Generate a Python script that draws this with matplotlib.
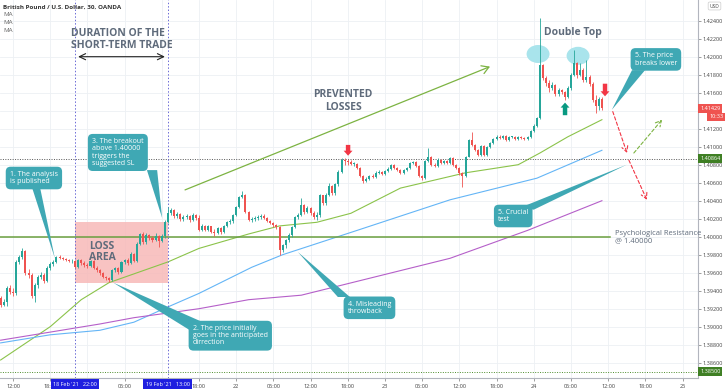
import numpy as np
import matplotlib.pyplot as plt
from matplotlib.patches import Rectangle, Ellipse, Polygon
from matplotlib.transforms import blended_transform_factory

plt.rcParams['font.family'] = ['Open Sans', 'DejaVu Sans']

# GBP/USD 30-minute candles, bar 0 = 18 Feb 12:00
first_open = 1.3932
closes = np.array([
    1.3924, 1.3927, 1.3943, 1.3939, 1.3937, 1.3972, 1.3977, 1.3984, 1.3960, 1.3957,
    1.3934, 1.3946, 1.3955, 1.3957, 1.3951, 1.3965, 1.3970, 1.3972, 1.3977, 1.3976,
    1.3975, 1.3974, 1.3973, 1.3973, 1.3966, 1.3974, 1.3971, 1.3969, 1.3967, 1.3973,
    1.3965, 1.3963, 1.3960, 1.3955, 1.3954, 1.3952, 1.3963, 1.3965, 1.3961, 1.3972,
    1.3974, 1.3971, 1.3981, 1.3973, 1.3992, 1.4003, 1.3994, 1.4002, 1.3999, 1.3996,
    1.4001, 1.3995, 1.4001, 1.4016, 1.4026, 1.4030, 1.4023, 1.4025, 1.4020, 1.4022,
    1.4023, 1.4019, 1.4024, 1.4021, 1.4007, 1.4012, 1.4007, 1.4012, 1.4005, 1.4004,
    1.4010, 1.4005, 1.4012, 1.4016, 1.4017, 1.4024, 1.4033, 1.4044, 1.4046, 1.4027,
    1.4019, 1.4020, 1.4021, 1.4022, 1.4023, 1.4021, 1.4017, 1.4015, 1.4013, 1.4011,
    1.3985, 1.3991, 1.3996, 1.4002, 1.4011, 1.4022, 1.4024, 1.4035, 1.4027, 1.4032,
    1.4026, 1.4022, 1.4024, 1.4046, 1.4037, 1.4046, 1.4056, 1.4049, 1.4059, 1.4072,
    1.4085, 1.4084, 1.4083, 1.4081, 1.4081, 1.4076, 1.4067, 1.4062, 1.4064, 1.4067,
    1.4066, 1.4071, 1.4072, 1.4070, 1.4073, 1.4075, 1.4080, 1.4076, 1.4074, 1.4071,
    1.4074, 1.4076, 1.4082, 1.4083, 1.4079, 1.4067, 1.4065, 1.4084, 1.4089, 1.4080,
    1.4079, 1.4085, 1.4082, 1.4084, 1.4082, 1.4087, 1.4080, 1.4076, 1.4071, 1.4067,
    1.4089, 1.4107, 1.4102, 1.4096, 1.4091, 1.4101, 1.4091, 1.4100, 1.4104, 1.4109,
    1.4111, 1.4110, 1.4112, 1.4107, 1.4111, 1.4111, 1.4109, 1.4111, 1.4110, 1.4109,
    1.4111, 1.4117, 1.4123, 1.4132, 1.4191, 1.4176, 1.4171, 1.4165, 1.4169, 1.4159,
    1.4163, 1.4161, 1.4155, 1.4165, 1.4180, 1.4193, 1.4180, 1.4185, 1.4174, 1.4177,
    1.4170, 1.4152, 1.4145, 1.4153, 1.4143])
highs = np.array([
    1.3934, 1.3931, 1.3945, 1.3946, 1.3943, 1.3974, 1.3980, 1.3987, 1.3985, 1.3964,
    1.3960, 1.3949, 1.3957, 1.3961, 1.3960, 1.3967, 1.3972, 1.3974, 1.3979, 1.3980,
    1.3977, 1.3976, 1.3975, 1.3975, 1.3974, 1.3975, 1.3975, 1.3973, 1.3971, 1.3974,
    1.3974, 1.3967, 1.3964, 1.3961, 1.3956, 1.3955, 1.3964, 1.3966, 1.3966, 1.3973,
    1.3975, 1.3976, 1.3983, 1.3982, 1.3994, 1.4004, 1.4005, 1.4004, 1.4003, 1.4001,
    1.4004, 1.4002, 1.4003, 1.4019, 1.4033, 1.4032, 1.4031, 1.4027, 1.4026, 1.4024,
    1.4025, 1.4024, 1.4026, 1.4025, 1.4024, 1.4014, 1.4013, 1.4013, 1.4012, 1.4009,
    1.4011, 1.4011, 1.4013, 1.4017, 1.4020, 1.4025, 1.4034, 1.4045, 1.4051, 1.4047,
    1.4029, 1.4022, 1.4023, 1.4024, 1.4025, 1.4025, 1.4022, 1.4019, 1.4016, 1.4014,
    1.4012, 1.3992, 1.3997, 1.4004, 1.4012, 1.4023, 1.4026, 1.4043, 1.4036, 1.4034,
    1.4033, 1.4029, 1.4027, 1.4047, 1.4046, 1.4049, 1.4060, 1.4057, 1.4060, 1.4074,
    1.4087, 1.4087, 1.4086, 1.4085, 1.4083, 1.4082, 1.4077, 1.4069, 1.4066, 1.4069,
    1.4070, 1.4073, 1.4074, 1.4073, 1.4074, 1.4077, 1.4081, 1.4081, 1.4077, 1.4075,
    1.4075, 1.4077, 1.4083, 1.4084, 1.4084, 1.4080, 1.4069, 1.4085, 1.4099, 1.4090,
    1.4082, 1.4087, 1.4086, 1.4085, 1.4085, 1.4089, 1.4089, 1.4081, 1.4077, 1.4072,
    1.4090, 1.4109, 1.4116, 1.4103, 1.4097, 1.4102, 1.4102, 1.4101, 1.4105, 1.4110,
    1.4113, 1.4113, 1.4113, 1.4113, 1.4112, 1.4112, 1.4112, 1.4112, 1.4112, 1.4111,
    1.4112, 1.4119, 1.4125, 1.4133, 1.4243, 1.4192, 1.4179, 1.4174, 1.4172, 1.4170,
    1.4165, 1.4164, 1.4162, 1.4167, 1.4182, 1.4207, 1.4194, 1.4193, 1.4187, 1.4196,
    1.4180, 1.4172, 1.4157, 1.4155, 1.4155])
lows = np.array([
    1.3922, 1.3923, 1.3923, 1.3936, 1.3934, 1.3935, 1.3970, 1.3975, 1.3957, 1.3954,
    1.3932, 1.3927, 1.3943, 1.3953, 1.3949, 1.3950, 1.3963, 1.3967, 1.3971, 1.3975,
    1.3974, 1.3973, 1.3972, 1.3971, 1.3965, 1.3965, 1.3969, 1.3966, 1.3965, 1.3966,
    1.3964, 1.3961, 1.3957, 1.3954, 1.3952, 1.3950, 1.3951, 1.3961, 1.3959, 1.3960,
    1.3970, 1.3969, 1.3970, 1.3972, 1.3972, 1.3991, 1.3992, 1.3992, 1.3996, 1.3994,
    1.3995, 1.3989, 1.3994, 1.3999, 1.4015, 1.4024, 1.4021, 1.4021, 1.4017, 1.4017,
    1.4020, 1.4016, 1.4017, 1.4019, 1.4006, 1.4006, 1.4006, 1.4006, 1.4004, 1.4001,
    1.4003, 1.4003, 1.4004, 1.4011, 1.4014, 1.4015, 1.4023, 1.4032, 1.4043, 1.4026,
    1.4017, 1.4016, 1.4017, 1.4019, 1.4020, 1.4020, 1.4016, 1.4014, 1.4011, 1.4009,
    1.3980, 1.3983, 1.3987, 1.3994, 1.4000, 1.4010, 1.4020, 1.4023, 1.4025, 1.4026,
    1.4024, 1.4020, 1.4019, 1.4022, 1.4035, 1.4035, 1.4045, 1.4046, 1.4046, 1.4056,
    1.4071, 1.4080, 1.4080, 1.4080, 1.4079, 1.4075, 1.4066, 1.4060, 1.4061, 1.4063,
    1.4065, 1.4065, 1.4070, 1.4069, 1.4069, 1.4072, 1.4074, 1.4075, 1.4073, 1.4070,
    1.4070, 1.4073, 1.4075, 1.4081, 1.4077, 1.4066, 1.4063, 1.4064, 1.4083, 1.4079,
    1.4077, 1.4077, 1.4081, 1.4081, 1.4081, 1.4081, 1.4079, 1.4075, 1.4069, 1.4055,
    1.4066, 1.4089, 1.4101, 1.4095, 1.4090, 1.4090, 1.4090, 1.4090, 1.4099, 1.4103,
    1.4107, 1.4109, 1.4109, 1.4106, 1.4106, 1.4110, 1.4107, 1.4107, 1.4109, 1.4107,
    1.4107, 1.4110, 1.4116, 1.4122, 1.4131, 1.4174, 1.4167, 1.4161, 1.4163, 1.4156,
    1.4156, 1.4159, 1.4152, 1.4154, 1.4163, 1.4179, 1.4176, 1.4179, 1.4172, 1.4172,
    1.4167, 1.4150, 1.4137, 1.4141, 1.4141])
bars = np.arange(-4, -4 + len(closes))

# moving averages
ma_fast_bars = [-4, 12, 22, 31, 50, 60, 76, 86, 98, 109, 125, 146, 163, 170, 173, 179, 190]
ma_fast = [1.3863, 1.3900, 1.3930, 1.3949, 1.3972, 1.3987, 1.4003, 1.4012, 1.4016, 1.4026,
           1.4054, 1.4071, 1.4080, 1.4093, 1.4099, 1.4111, 1.4130]
ma_mid_bars = [-4, 12, 28, 39, 50, 60, 77, 87, 111, 141, 169, 190]
ma_mid = [1.3882, 1.3891, 1.3896, 1.3905, 1.3922, 1.3937, 1.3966, 1.3980, 1.4007, 1.4041, 1.4065, 1.4096]
ma_slow_bars = [-4, 28, 39, 60, 76, 93, 141, 166, 190]
ma_slow = [1.3885, 1.3903, 1.3910, 1.3920, 1.3930, 1.3935, 1.3976, 1.4007, 1.4040]

# time axis (labels under the two date tags are hidden on the chart)
tick_bars = [0, 12, 24, 36, 48, 60, 72, 84, 96, 108, 120, 132, 144, 156, 168, 180, 192, 204, 216]
tick_labels = ['12:00', '18:00', '', '06:00', '', '18:00', '22', '06:00', '12:00', '18:00',
               '23', '06:00', '12:00', '18:00', '24', '06:00', '12:00', '18:00', '25']

# price axis (the 1.41400 label sits under the last-price tag)
price_ticks = np.arange(1.386, 1.4245, 0.002)
price_labels = ['' if abs(v - 1.414) < 1e-6 else f'{v:.5f}' for v in price_ticks]

last_price = 1.41429
level_high = 1.40864
level_low = 1.38500
psych_level = 1.40000

TEAL = '#3fa8b4'
UP, DOWN = '#26a69a', '#ef5350'
TXT = '#5f6b7b'

fig = plt.figure(figsize=(7.28, 3.91), dpi=100)
ax = fig.add_axes([0, 13 / 391, 698 / 728, 378 / 391])
ax.set_xlim(-4.2, 221.0)
ax.set_ylim(1.3843, 1.4263)

# candles
opens = np.r_[first_open, closes[:-1]]
hi = np.maximum(highs, np.maximum(opens, closes))
lo = np.minimum(lows, np.minimum(opens, closes))
cols = np.where(closes >= opens, UP, DOWN)
ax.vlines(bars, lo, hi, colors=cols, lw=0.6, zorder=4)
ax.bar(bars, np.maximum(np.abs(closes - opens), 0.00004), bottom=np.minimum(opens, closes),
       width=0.65, color=cols, lw=0, zorder=4)

ax.plot(ma_fast_bars, ma_fast, color='#8bc34a', lw=0.8, zorder=3)
ax.plot(ma_mid_bars, ma_mid, color='#64b5f6', lw=0.8, zorder=3)
ax.plot(ma_slow_bars, ma_slow, color='#b55fc9', lw=0.8, zorder=3)

# levels
ax.plot([-4.2, 192.6], [psych_level, psych_level], color='#6a9f3f', lw=1.1, zorder=3)
ax.axhline(level_high, color='#555555', lw=0.7, ls=(0, (1, 1.5)), zorder=3)
ax.axhline(level_low, color='#4c8c2b', lw=0.7, ls=(0, (1, 1.5)), zorder=3)
for b in (20, 50):
    ax.axvline(b, color='#6b6bd6', lw=0.7, ls=(0, (1.5, 2)), zorder=3)

ax.add_patch(Rectangle((20, 1.39486), 30, 0.00677, fc='#f7b9b8', ec='none', alpha=0.85, zorder=1))
ax.text(24.5, 1.3983, 'LOSS\nAREA', fontsize=7.5, fontweight='bold', color=TXT,
        ha='left', va='center', linespacing=1.1, zorder=5)

ax.add_patch(Ellipse((169.4, 1.4203), 7.4, 0.0020, fc='#a9e4ec', ec='none', zorder=2))
ax.add_patch(Ellipse((182.3, 1.4201), 7.4, 0.0020, fc='#a9e4ec', ec='none', zorder=2))

ax.text(18.7, 1.4232, 'DURATION OF THE\nSHORT-TERM TRADE', fontsize=7.5, fontweight='bold',
        color=TXT, ha='left', va='top', linespacing=1.1, zorder=5)
ax.annotate('', xy=(49, 1.4200), xytext=(21, 1.4200),
            arrowprops=dict(arrowstyle='<->,head_length=0.45,head_width=0.22', color='#222222',
                            lw=0.8, shrinkA=0, shrinkB=0))
ax.text(106.5, 1.4151, 'PREVENTED\nLOSSES', fontsize=7.5, fontweight='bold', color=TXT,
        ha='center', va='center', linespacing=1.2, zorder=5)
ax.annotate('', xy=(153.9, 1.4189), xytext=(55.5, 1.4052),
            arrowprops=dict(arrowstyle='->,head_length=0.5,head_width=0.3', color='#7cb342',
                            lw=0.9, shrinkA=0, shrinkB=0))
ax.text(171.3, 1.4227, 'Double Top', fontsize=7.5, fontweight='bold', color=TXT,
        ha='left', va='center', zorder=5)
ax.text(194.2, 1.39995, 'Psychological Resistance\n@ 1.40000', fontsize=5.5, color=TXT,
        ha='left', va='center', linespacing=1.1, zorder=5, clip_on=False)

# arrow marks
def block_arrow(x, y0, y1, color):
    ax.annotate('', xy=(x, y1), xytext=(x, y0),
                arrowprops=dict(arrowstyle='simple,head_length=0.45,head_width=0.8,tail_width=0.4',
                                fc=color, ec='none', shrinkA=0, shrinkB=0, mutation_scale=8),
                zorder=6)

block_arrow(108.1, 1.4102, 1.4090, '#f23645')
block_arrow(191.0, 1.4170, 1.4156, '#f23645')
block_arrow(178.1, 1.4135, 1.4149, '#089981')

def dashed(p0, p1, color):
    ax.annotate('', xy=p1, xytext=p0,
                arrowprops=dict(arrowstyle='->,head_length=0.4,head_width=0.22', color=color,
                                lw=0.8, ls=(0, (3, 2)), shrinkA=0, shrinkB=0), zorder=6)

dashed((193.5, 1.4139), (198.1, 1.4093), '#f23645')
dashed((198.7, 1.4085), (204.5, 1.4041), '#f23645')
dashed((200.3, 1.4093), (209.4, 1.4130), '#7cb342')

# callouts
def callout(text, x, y, tip, b1, b2):
    ax.add_patch(Polygon([tip, b1, b2], closed=True, fc=TEAL, ec='none', zorder=6))
    ax.text(x, y, text, fontsize=5, color='white', ha='left', va='center', linespacing=1.05,
            zorder=7, clip_on=False,
            bbox=dict(boxstyle='round,pad=0.6,rounding_size=0.7', fc=TEAL, ec='none'))

callout('1. The analysis\nis published', -1.0, 1.40652, (13.5, 1.3976), (6.1, 1.4055), (8.7, 1.4055))
callout('2. The price initially\ngoes in the anticipated\ndirrection', 58.0, 1.3890,
        (32.3, 1.3949), (57.1, 1.3896), (61.9, 1.3904))
callout('3. The breakout\nabove 1.40000\ntriggers the\nsuggested SL', 25.5, 1.40936,
        (48.1, 1.4021), (43.2, 1.4074), (46.5, 1.4074))
callout('4. Misleading\nthrowback', 108.0, 1.3921, (91.9, 1.3983), (104.8, 1.3933), (108.7, 1.3933))
callout('5. Crucial\ntest', 156.5, 1.4023, (198.0, 1.4080), (164.2, 1.4033), (168.0, 1.4030))
callout('5. The price\nbreaks lower', 200.6, 1.4197, (193.2, 1.4141), (199.7, 1.4185), (203.9, 1.4185))

# axes styling
ax.yaxis.tick_right()
ax.set_yticks(price_ticks)
ax.set_yticklabels(price_labels)
ax.set_xticks(tick_bars)
ax.set_xticklabels(tick_labels)
ax.tick_params(axis='y', labelsize=4, length=2, width=0.5, color='#777777', labelcolor='#444444', pad=1.5)
ax.tick_params(axis='x', labelsize=4, length=2, width=0.5, color='#777777', labelcolor='#444444', pad=2)
ax.grid(True, color='#edf0f4', lw=0.6, zorder=0)
ax.set_axisbelow(True)
for s in ('top', 'left'):
    ax.spines[s].set_visible(False)
for s in ('right', 'bottom'):
    ax.spines[s].set_color('#b2b5be')
    ax.spines[s].set_linewidth(0.8)

ty = blended_transform_factory(ax.transAxes, ax.transData)
tx = blended_transform_factory(ax.transData, ax.transAxes)

def price_tag(y, text, color, x=1.003, ha='left'):
    ax.text(x, y, text, transform=ty, fontsize=4, color='white', ha=ha, va='center', zorder=8,
            clip_on=False, bbox=dict(boxstyle='square,pad=0.35', fc=color, ec='none'))

price_tag(last_price, '1.41429', '#ef5350')
price_tag(1.4133, '10:33', '#ef5350', x=1.026, ha='center')
price_tag(level_high, '1.40864', '#3f7f24')
price_tag(level_low, '1.38500', '#3f7f24')

for b, lab in ((20, "18 Feb '21   22:00"), (50, "19 Feb '21   13:00")):
    ax.text(b, -0.016, lab, transform=tx, fontsize=4, color='white', ha='center', va='center',
            zorder=8, clip_on=False, bbox=dict(boxstyle='square,pad=0.45', fc='#1f1fe0', ec='none'))

fig.text(3 / 728, 1 - 7 / 391, 'British Pound / U.S. Dollar, 30, OANDA', fontsize=4.5,
         fontweight='bold', color='#333333', va='center')
for i in range(3):
    fig.text(3 / 728, 1 - (15 + 8 * i) / 391, 'MA', fontsize=4.5, color='#666666', va='center')
fig.text(714.5 / 728, 1 - 6 / 391, 'USD', fontsize=3.5, color='#444444', ha='center', va='center',
         bbox=dict(boxstyle='round,pad=0.3', fc='white', ec='#cccccc', lw=0.5))

fig.savefig('out.png', dpi=100, facecolor='white')
